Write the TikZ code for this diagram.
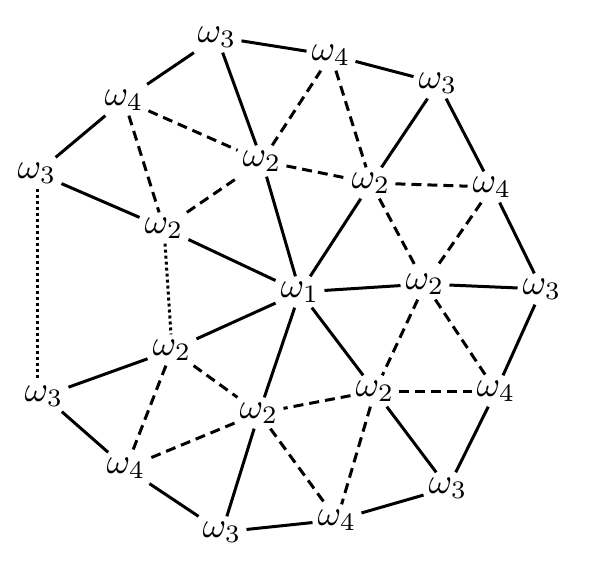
\documentclass[tikz,border=0pt]{standalone}
\newcommand{\om}[1]{\scalebox{3.6}{$\omega_{#1}$}}
\begin{document}
\begin{tikzpicture}[x=1pt, y=-1pt,
    lbl/.style={inner sep=5pt},
    edge/.style={line width=3pt},
    dsh/.style={line width=3pt, dash pattern=on 10pt off 6pt},
    dts/.style={line width=3pt, dash pattern=on 3pt off 3pt}]
  \useasboundingbox (0,0) rectangle (590,571);

  % outer ring
  \node[lbl] (w3a) at (217,37) {\om{3}};
  \node[lbl] (w4a) at (331,55) {\om{4}};
  \node[lbl] (w3b) at (438,83) {\om{3}};
  \node[lbl] (w4b) at (492,187) {\om{4}};
  \node[lbl] (w3c) at (542,289) {\om{3}};
  \node[lbl] (w4c) at (496,391) {\om{4}};
  \node[lbl] (w3d) at (448,488) {\om{3}};
  \node[lbl] (w4d) at (337,520) {\om{4}};
  \node[lbl] (w3e) at (222,532) {\om{3}};
  \node[lbl] (w4e) at (126,468) {\om{4}};
  \node[lbl] (w3f) at (44,396) {\om{3}};
  \node[lbl] (w3g) at (37,173) {\om{3}};
  \node[lbl] (w4f) at (124,100) {\om{4}};

  % inner ring
  \node[lbl] (w1) at (300,292) {\om{1}};
  \node[lbl] (w2a) at (262,161) {\om{2}};
  \node[lbl] (w2b) at (371,183) {\om{2}};
  \node[lbl] (w2c) at (425,284) {\om{2}};
  \node[lbl] (w2d) at (375,391) {\om{2}};
  \node[lbl] (w2e) at (259,413) {\om{2}};
  \node[lbl] (w2f) at (172,350) {\om{2}};
  \node[lbl] (w2g) at (164,228) {\om{2}};

  \foreach \a/\b in {w3a/w4a, w3a/w4f, w3a/w2a, w4a/w3b, w3b/w2b, w3b/w4b,
      w4f/w3g, w3g/w2g, w2a/w1, w2g/w1, w2b/w1, w1/w2c, w2c/w3c, w4b/w3c,
      w1/w2f, w1/w2e, w1/w2d, w3c/w4c, w2f/w3f, w3f/w4e, w4e/w3e, w2e/w3e,
      w3e/w4d, w4d/w3d, w2d/w3d, w4c/w3d}
    \draw[edge] (\a) -- (\b);

  \foreach \a/\b in {w4f/w2a, w4f/w2g, w2g/w2a, w2a/w4a, w4a/w2b, w2a/w2b,
      w2b/w4b, w2b/w2c, w4b/w2c, w2c/w2d, w2c/w4c, w2d/w4c, w2d/w2e, w2d/w4d,
      w2e/w4d, w2e/w4e, w2f/w4e, w2f/w2e}
    \draw[dsh] (\a) -- (\b);

  \draw[dts] (w3g) -- (w3g |- w3f.north);
  \draw[dts] (w2g) -- (w2f);
\end{tikzpicture}
\end{document}
